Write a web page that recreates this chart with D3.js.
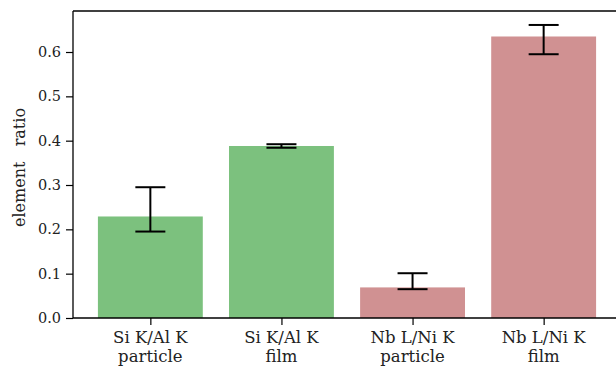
<!DOCTYPE html>
<html>
<head>
<meta charset="utf-8">
<script src="https://cdn.jsdelivr.net/npm/d3@7"></script>
<style>
  body { margin: 0; background: #fff; }
</style>
</head>
<body>
<div id="chart"></div>
<script>
// data
const labelTop = ["Si K/Al K", "Si K/Al K", "Nb L/Ni K", "Nb L/Ni K"];
const labelBottom = ["particle", "film", "particle", "film"];
const ratios = [0.229, 0.388, 0.069, 0.635];
const errLow = [0.195, 0.384, 0.065, 0.595];
const errHigh = [0.295, 0.392, 0.101, 0.661];
const barColors = ["#7cc17e", "#7cc17e", "#d09192", "#d09192"];
const yTicks = [0.0, 0.1, 0.2, 0.3, 0.4, 0.5, 0.6];

const FONT = "'DejaVu Serif', serif";
const W = 616, H = 368;
const margin = { top: 11, left: 73, bottom: 50 };
const plotRight = 621; // right spine falls just outside the window

const svg = d3.select("#chart").append("svg")
  .attr("width", W).attr("height", H);

const idx = d3.range(ratios.length);

// matplotlib-style continuous x with bar width 0.8
const x = d3.scaleLinear()
  .domain([-0.59, 3.59])
  .range([margin.left, plotRight]);

const y = d3.scaleLinear()
  .domain([0, 0.6925])
  .range([H - margin.bottom, margin.top]);

// bars
svg.append("g").selectAll("rect")
  .data(idx)
  .join("rect")
  .attr("x", i => x(i - 0.4))
  .attr("width", x(0.4) - x(-0.4))
  .attr("y", i => y(ratios[i]))
  .attr("height", i => y(0) - y(ratios[i]))
  .attr("fill", i => barColors[i]);

// error bars
const capHalf = 15;
const eb = svg.append("g").attr("stroke", "#000").attr("stroke-width", 2);
idx.forEach(i => {
  const cx = x(i);
  eb.append("line").attr("x1", cx).attr("x2", cx)
    .attr("y1", y(errLow[i])).attr("y2", y(errHigh[i]));
  eb.append("line").attr("x1", cx - capHalf).attr("x2", cx + capHalf)
    .attr("y1", y(errLow[i])).attr("y2", y(errLow[i]));
  eb.append("line").attr("x1", cx - capHalf).attr("x2", cx + capHalf)
    .attr("y1", y(errHigh[i])).attr("y2", y(errHigh[i]));
});

// axes
const yAxis = svg.append("g")
  .attr("transform", `translate(${margin.left},0)`)
  .call(d3.axisLeft(y).tickValues(yTicks).tickFormat(d3.format(".1f")).tickSize(7).tickPadding(5))
  .call(g => g.select(".domain").remove());
yAxis.selectAll("line").attr("stroke", "#000").attr("stroke-width", 1.2);
yAxis.selectAll("text").attr("fill", "#222")
  .style("font-family", FONT).style("font-size", "14.5px");

const xAxis = svg.append("g")
  .attr("transform", `translate(0,${y(0)})`)
  .call(d3.axisBottom(x).tickValues(idx).tickFormat("").tickSize(7))
  .call(g => g.select(".domain").remove());
xAxis.selectAll("line").attr("stroke", "#000").attr("stroke-width", 1.2);

const xl = svg.append("g").attr("text-anchor", "middle");
idx.forEach(i => {
  xl.append("text").attr("x", x(i)).attr("y", y(0) + 25).text(labelTop[i]);
  xl.append("text").attr("x", x(i)).attr("y", y(0) + 44).text(labelBottom[i]);
});
xl.selectAll("text").attr("fill", "#222")
  .style("font-family", FONT).style("font-size", "16.5px");

// spines
const spine = svg.append("g").attr("stroke", "#000").attr("stroke-width", 1.3).attr("fill", "none");
spine.append("line").attr("x1", margin.left).attr("x2", margin.left).attr("y1", margin.top).attr("y2", y(0));
spine.append("line").attr("x1", margin.left).attr("x2", plotRight).attr("y1", y(0)).attr("y2", y(0));
spine.append("line").attr("x1", margin.left).attr("x2", plotRight).attr("y1", margin.top).attr("y2", margin.top);
spine.append("line").attr("x1", plotRight).attr("x2", plotRight).attr("y1", margin.top).attr("y2", y(0));

// y label
svg.append("text")
  .attr("transform", `translate(25,${(margin.top + y(0)) / 2 + 3}) rotate(-90)`)
  .attr("text-anchor", "middle")
  .attr("fill", "#222")
  .style("font-family", FONT).style("font-size", "16px")
  .style("white-space", "pre")
  .text("element   ratio");
</script>
</body>
</html>
